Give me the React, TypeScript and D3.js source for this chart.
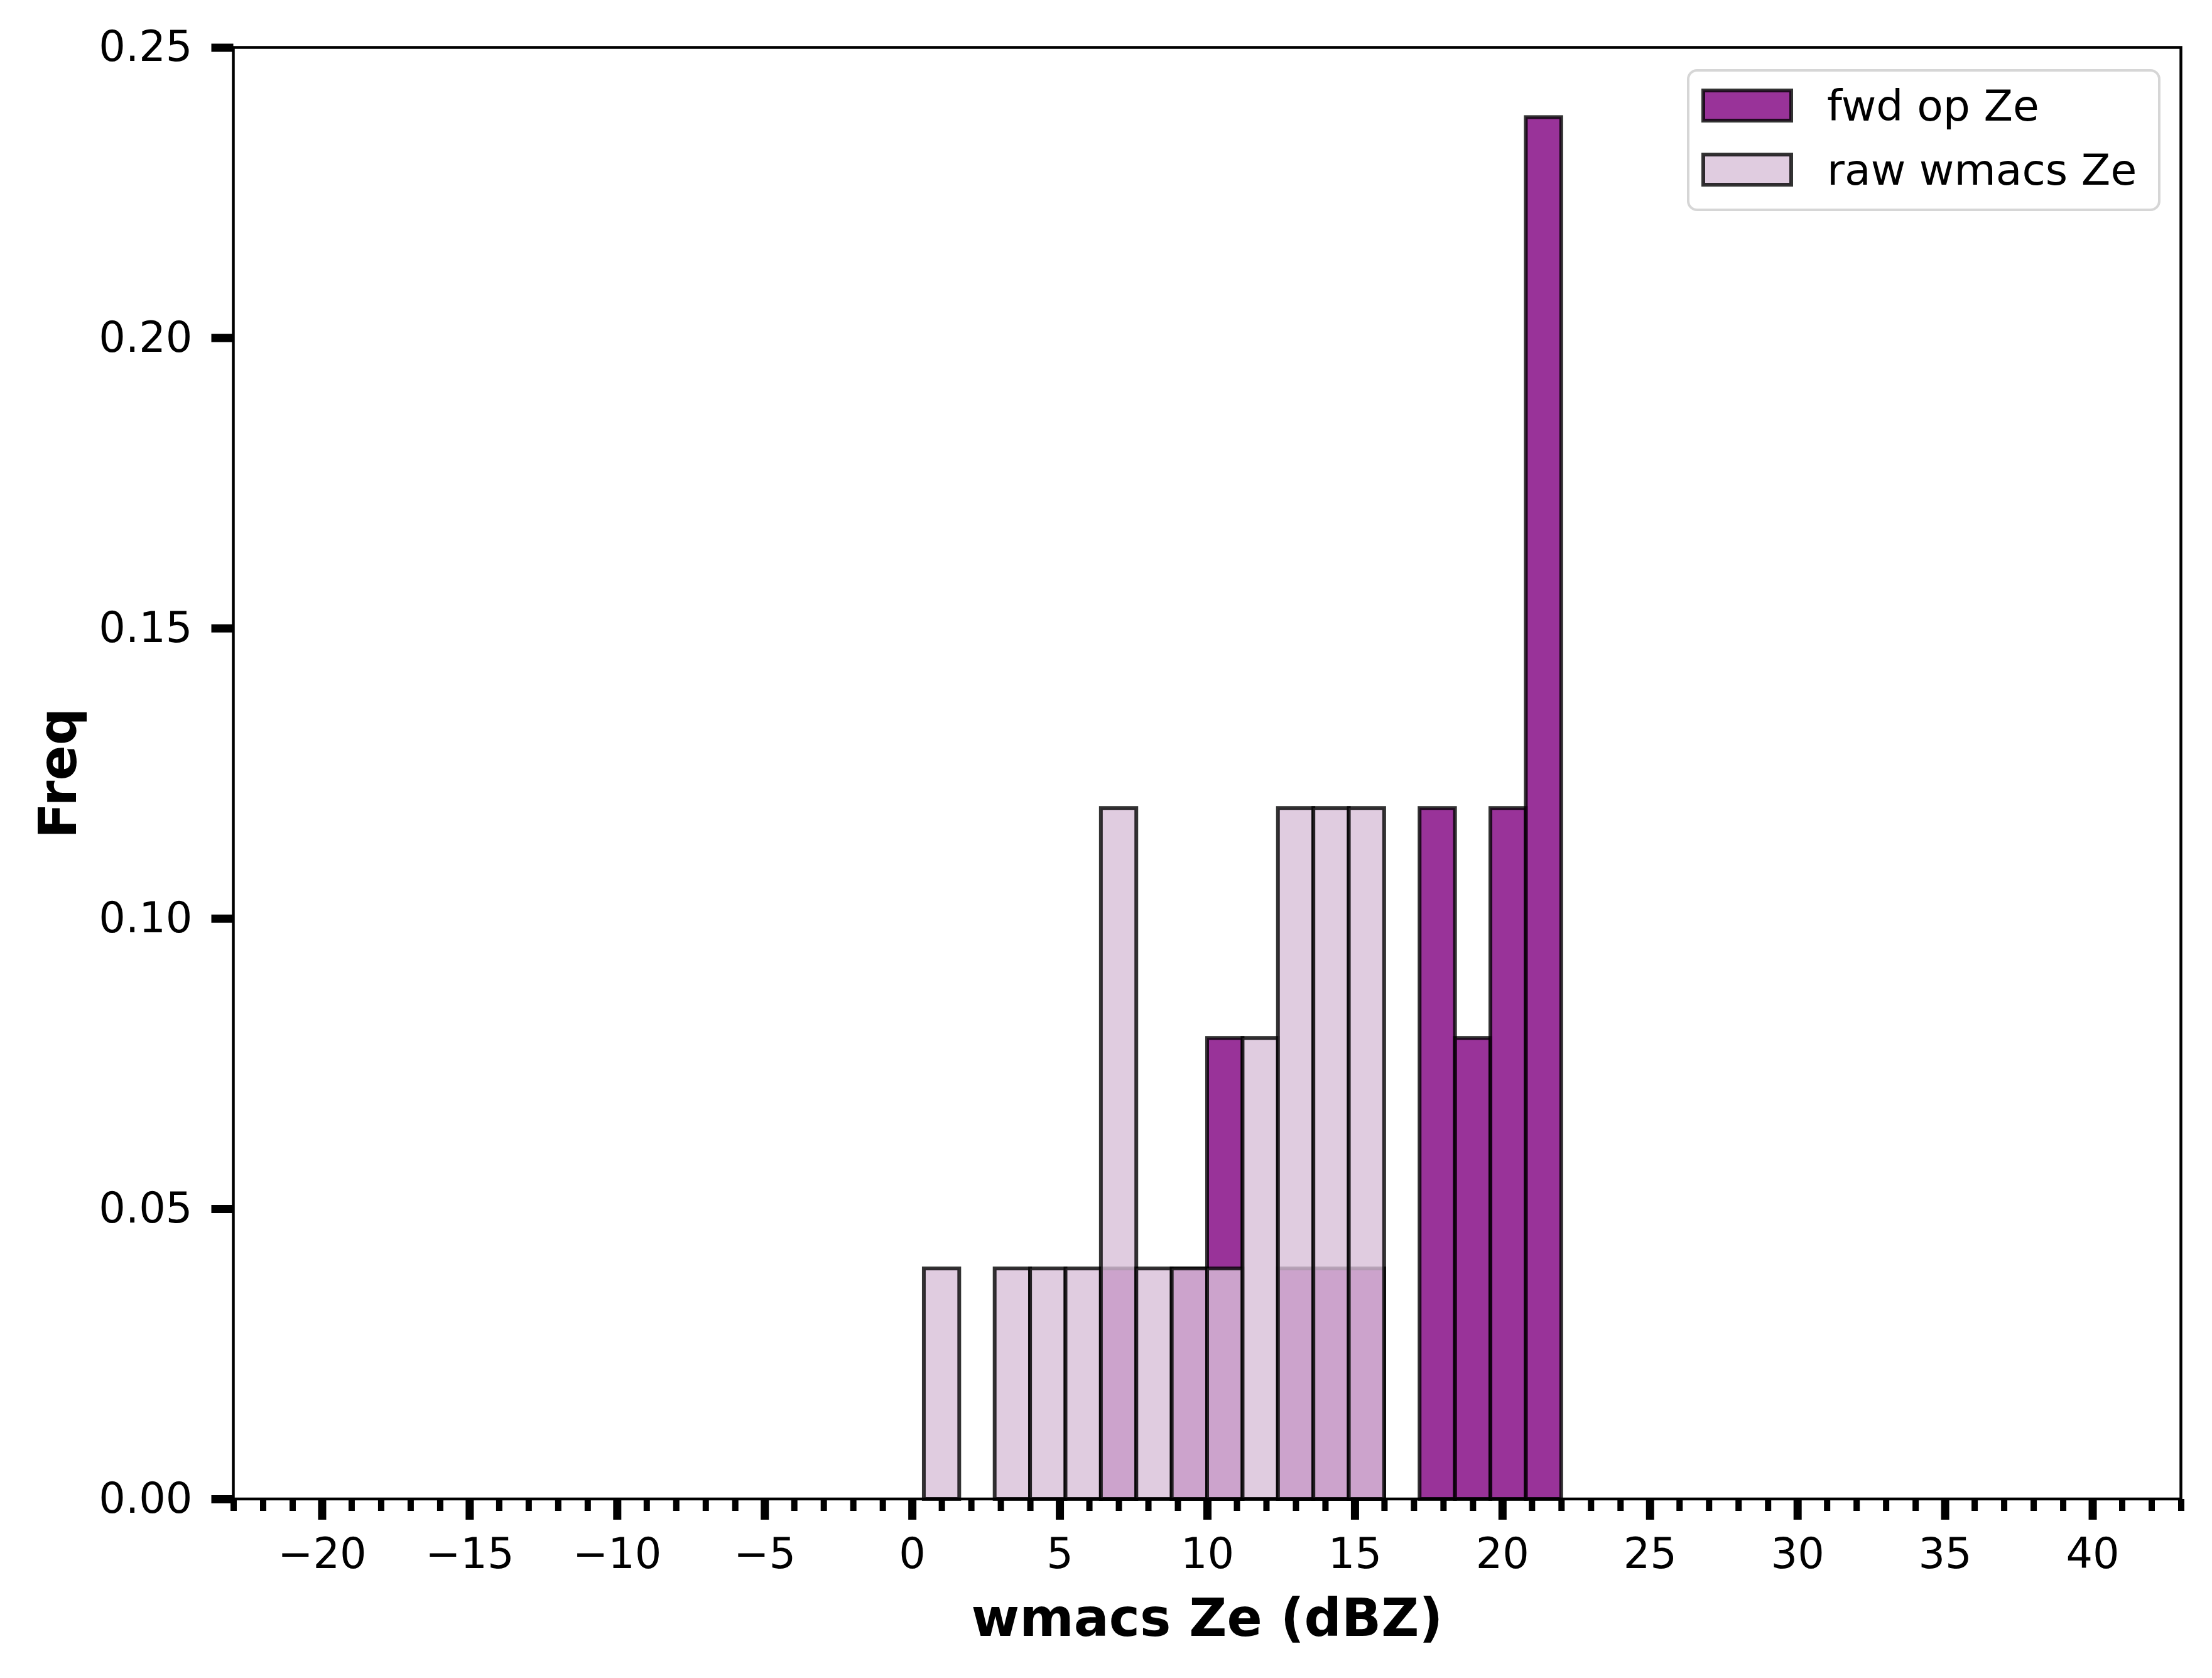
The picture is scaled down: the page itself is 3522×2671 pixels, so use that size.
import React, { useRef, useEffect } from "react";
import * as d3 from "d3";

// histogram bins (left edge, dBZ) and normalised frequencies
const binWidth = 1.2;
const fwdLeft = [6.4, 8.8, 10.0, 12.4, 13.6, 14.8, 17.2, 18.4, 19.6, 20.8];
const fwdFreq = [0.0397, 0.0397, 0.0794, 0.0397, 0.0397, 0.0397, 0.119, 0.0794, 0.119, 0.238];
const rawLeft = [0.4, 2.8, 4.0, 5.2, 6.4, 7.6, 8.8, 10.0, 11.2, 12.4, 13.6, 14.8];
const rawFreq = [0.0397, 0.0397, 0.0397, 0.0397, 0.119, 0.0397, 0.0397, 0.0397, 0.0794, 0.119, 0.119, 0.119];

const xMajor = [-20, -15, -10, -5, 0, 5, 10, 15, 20, 25, 30, 35, 40];
const xMinor = d3.range(-23, 44).filter((v) => v % 5 !== 0);
const yTicks = [0, 0.05, 0.1, 0.15, 0.2, 0.25];

const series = [
  { name: "fwd op Ze", left: fwdLeft, freq: fwdFreq, color: "purple" },
  { name: "raw wmacs Ze", left: rawLeft, freq: rawFreq, color: "thistle" },
];

export default function App() {
  const ref = useRef<SVGSVGElement | null>(null);

  useEffect(() => {
    const width = 3522;
    const height = 2671;
    const plot = { left: 371.5, right: 3472.5, top: 75.5, bottom: 2386 };
    const font = "DejaVu Sans, sans-serif";

    d3.select(ref.current).selectAll("*").remove();

    const svg = d3
      .select(ref.current)
      .attr("width", width)
      .attr("height", height)
      .style("background-color", "#ffffff");

    const x = d3.scaleLinear().domain([-23, 43]).range([plot.left, plot.right]);
    const y = d3.scaleLinear().domain([0, 0.25]).range([plot.bottom, plot.top]);

    // bars: fwd first, raw on top, both alpha 0.8 with black edges
    series.forEach((s) => {
      svg
        .append("g")
        .selectAll("rect")
        .data(s.left.map((l, i) => ({ l, f: s.freq[i] })))
        .join("rect")
        .attr("x", (d) => x(d.l))
        .attr("y", (d) => y(d.f))
        .attr("width", (d) => x(d.l + binWidth) - x(d.l))
        .attr("height", (d) => y(0) - y(d.f))
        .attr("fill", s.color)
        .attr("fill-opacity", 0.8)
        .attr("stroke", "#000")
        .attr("stroke-opacity", 0.8)
        .attr("stroke-width", 6);
    });

    // x axis: major + minor ticks
    const xAxis = svg
      .append("g")
      .attr("transform", `translate(0,${plot.bottom})`)
      .call(
        d3
          .axisBottom(x)
          .tickValues(xMajor)
          .tickSize(33)
          .tickPadding(29)
          .tickFormat(d3.format("d"))
      );
    xAxis.select(".domain").remove();
    xAxis.selectAll(".tick line").attr("stroke", "#000").attr("stroke-width", 13);
    xAxis
      .selectAll("text")
      .attr("fill", "#000")
      .style("font-family", font)
      .style("font-size", "67px");

    const xMinorAxis = svg
      .append("g")
      .attr("transform", `translate(0,${plot.bottom})`)
      .call(d3.axisBottom(x).tickValues(xMinor).tickSize(19).tickFormat(() => ""));
    xMinorAxis.select(".domain").remove();
    xMinorAxis.selectAll(".tick line").attr("stroke", "#000").attr("stroke-width", 10);

    // y axis
    const yAxis = svg
      .append("g")
      .attr("transform", `translate(${plot.left},0)`)
      .call(
        d3
          .axisLeft(y)
          .tickValues(yTicks)
          .tickSize(35)
          .tickPadding(30)
          .tickFormat(d3.format(".2f"))
      );
    yAxis.select(".domain").remove();
    yAxis.selectAll(".tick line").attr("stroke", "#000").attr("stroke-width", 13);
    yAxis
      .selectAll("text")
      .attr("fill", "#000")
      .style("font-family", font)
      .style("font-size", "67px");

    // frame
    svg
      .append("rect")
      .attr("x", plot.left)
      .attr("y", plot.top)
      .attr("width", plot.right - plot.left)
      .attr("height", plot.bottom - plot.top)
      .attr("fill", "none")
      .attr("stroke", "#000")
      .attr("stroke-width", 4.5);

    // axis labels
    svg
      .append("text")
      .attr("x", (plot.left + plot.right) / 2)
      .attr("y", 2604)
      .attr("text-anchor", "middle")
      .style("font-family", font)
      .style("font-size", "83px")
      .style("font-weight", "bold")
      .text("wmacs Ze (dBZ)");

    svg
      .append("text")
      .attr("transform", `translate(121,${(plot.top + plot.bottom) / 2}) rotate(-90)`)
      .attr("text-anchor", "middle")
      .style("font-family", font)
      .style("font-size", "83px")
      .style("font-weight", "bold")
      .text("Freq");

    // legend
    const legend = svg.append("g");
    legend
      .append("rect")
      .attr("x", 2688)
      .attr("y", 112)
      .attr("width", 750)
      .attr("height", 222)
      .attr("rx", 14)
      .attr("fill", "#fff")
      .attr("fill-opacity", 0.8)
      .attr("stroke", "#cccccc")
      .attr("stroke-opacity", 0.8)
      .attr("stroke-width", 4);

    series.forEach((s, i) => {
      const cy = 168 + i * 102;
      legend
        .append("rect")
        .attr("x", 2712)
        .attr("y", cy - 24)
        .attr("width", 140)
        .attr("height", 48)
        .attr("fill", s.color)
        .attr("fill-opacity", 0.8)
        .attr("stroke", "#000")
        .attr("stroke-opacity", 0.8)
        .attr("stroke-width", 6);
      legend
        .append("text")
        .attr("x", 2909)
        .attr("y", cy + 24)
        .style("font-family", font)
        .style("font-size", "68px")
        .text(s.name);
    });
  }, []);

  return (
    <div style={{ position: "absolute", left: 0, top: 0 }}>
      <svg ref={ref}></svg>
    </div>
  );
}
